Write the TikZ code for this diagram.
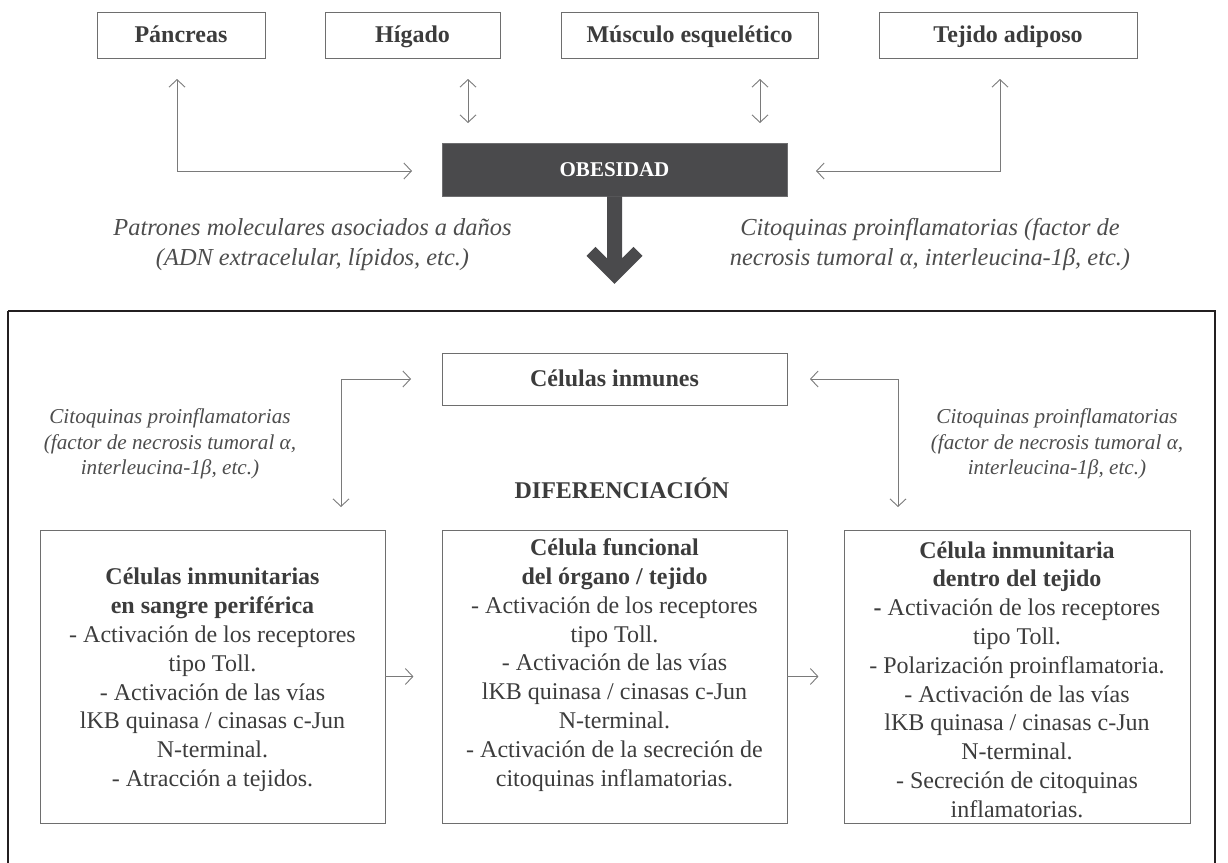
\documentclass[tikz,border=0pt]{standalone}
\usepackage{fontspec}
\setmainfont{Liberation Serif}
\usetikzlibrary{arrows.meta,calc}
\definecolor{txt}{HTML}{3C3C3C}
\definecolor{itx}{HTML}{4D4D4D}
\definecolor{boxline}{HTML}{6E6E6E}
\definecolor{connc}{HTML}{7A7A7A}
\definecolor{darkfill}{HTML}{4A4A4C}
\definecolor{framec}{HTML}{231F20}
\begin{document}
\begin{tikzpicture}[x=1pt,y=-1pt,
  organ/.style={draw=boxline, line width=0.9pt, minimum height=46pt, inner sep=0pt,
    text height=16pt, text depth=2pt,
    font=\fontsize{24}{28.8}\selectfont\bfseries, text=txt},
  bigbox/.style={draw=boxline, line width=0.9pt, inner sep=0pt},
  btext/.style={align=center, text=txt, inner sep=0pt, font=\fontsize{24}{28.8}\selectfont},
  itext/.style={align=center, text=itx, inner sep=0pt, font=\fontsize{24.4}{30}\selectfont\itshape},
  ctext/.style={align=center, text=itx, inner sep=0pt, font=\fontsize{21.2}{25.5}\selectfont\itshape},
  tip/.tip={Straight Barb[length=7.5pt,width=16pt]},
  conn/.style={draw=connc, line width=0.9pt, -tip},
  conn2/.style={draw=connc, line width=0.9pt, tip-tip},
]
\useasboundingbox (0,0) rectangle (1228,862);
% outer frame
\draw[framec, line width=2.6pt] (8,311) -- (1215,311) -- (1215,870) (8,870) -- (8,311);
% top organ boxes
\node[organ, minimum width=168pt] (pan) at (181,35) {Páncreas};
\node[organ, minimum width=175pt] (hig) at (412.5,35) {Hígado};
\node[organ, minimum width=257pt] (mus) at (689.5,35) {Músculo esquelético};
\node[organ, minimum width=258pt] (tej) at (1008,35) {Tejido adiposo};
% obesity
\node[fill=darkfill, draw=darkfill!80!white, line width=0.6pt, minimum width=345pt, minimum height=53pt, inner sep=0pt,
  text height=14pt, text depth=0pt,
  text=white, font=\fontsize{21}{25}\selectfont\bfseries] (ob) at (614.5,169.5) {OBESIDAD};
% organ connectors
\coordinate (pa1) at (177,79);
\coordinate (pa2) at (412,171);
\coordinate (hi1) at (468,79);
\coordinate (hi2) at (468,123);
\coordinate (mu1) at (760,79);
\coordinate (mu2) at (760,123);
\coordinate (te1) at (1000,79);
\coordinate (te2) at (816,171);
\draw[conn2] (pa1) |- (pa2);
\draw[conn2] (hi1) -- (hi2);
\draw[conn2] (mu1) -- (mu2);
\draw[conn2] (te1) |- (te2);
% big arrow
\fill[darkfill] ($(ob.south)+(-7.5,0)$) -- ++(0,62) -- ++(-11.5,-11.5) -- ++(-9,9) -- ++(28,28)
  -- ++(28,-28) -- ++(-9,-9) -- ++(-11.5,11.5) -- ++(0,-62) -- cycle;
% italic labels
\node[itext] (lab1) at (312.5,245) {Patrones moleculares asociados a daños\\(ADN extracelular, lípidos, etc.)};
\node[itext] (lab2) at (930,245) {Citoquinas proinflamatorias (factor de\\necrosis tumoral α, interleucina-1β, etc.)};
% immune cells
\node[organ, minimum width=345pt, minimum height=52pt] (inm) at (614.5,379) {Células inmunes};
\node[btext, font=\fontsize{24}{28.8}\selectfont\bfseries] (dif) at (622,488) {DIFERENCIACIÓN};
\node[ctext] (cl) at (170,444) {Citoquinas proinflamatorias\\(factor de necrosis tumoral α,\\interleucina-1β, etc.)};
\node[ctext] (cr) at (1057,444) {Citoquinas proinflamatorias\\(factor de necrosis tumoral α,\\interleucina-1β, etc.)};
% bottom boxes
\node[bigbox, minimum width=345pt, minimum height=293pt] (b1) at (212.5,676.5) {};
\node[bigbox, minimum width=345pt, minimum height=293pt] (b2) at (614.5,676.5) {};
\node[bigbox, minimum width=346pt, minimum height=293pt] (b3) at (1017,676.5) {};
\node[btext] (t1) at (212.5,680) {\textbf{Células inmunitarias}\\\textbf{en sangre periférica}\\- Activación de los receptores\\tipo Toll.\\- Activación de las vías\\lKB quinasa / cinasas c-Jun\\N-terminal.\\- Atracción a tejidos.};
\node[btext] (t2) at (614.5,665) {\textbf{Célula funcional}\\\textbf{del órgano / tejido}\\- Activación de los receptores\\tipo Toll.\\- Activación de las vías\\lKB quinasa / cinasas c-Jun\\N-terminal.\\- Activación de la secreción de\\citoquinas inflamatorias.};
\node[btext] (t3) at (1017,679.5) {\textbf{Célula inmunitaria}\\\textbf{dentro del tejido}\\\textbf{-} Activación de los receptores\\tipo Toll.\\- Polarización proinflamatoria.\\- Activación de las vías\\lKB quinasa / cinasas c-Jun\\N-terminal.\\- Secreción de citoquinas\\inflamatorias.};
% inner connectors
\coordinate (il1) at (341,507);
\coordinate (il2) at (411,379);
\coordinate (ir1) at (898,507);
\coordinate (ir2) at (810,379);
\draw[conn2] (il1) |- (il2);
\draw[conn2] (ir1) |- (ir2);
\draw[conn] (b1.east) -- ++(28,0);
\draw[conn] (b2.east) -- ++(31,0);
\end{tikzpicture}
\end{document}
